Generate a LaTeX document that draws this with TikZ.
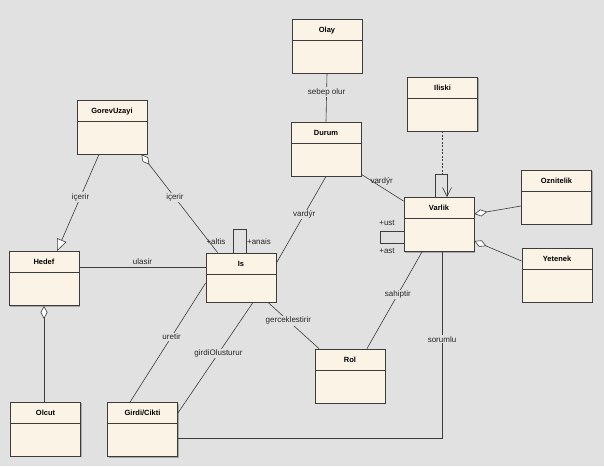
\documentclass[tikz,border=0pt]{standalone}
\usepackage{fontspec}
\setmainfont{Liberation Sans}
\usetikzlibrary{positioning,arrows.meta,shadows}

\definecolor{bgcol}{RGB}{225,225,225}
\definecolor{boxcol}{RGB}{251,243,230}
\definecolor{linecol}{RGB}{60,60,60}

\tikzset{
  umlclass/.style={draw=linecol, fill=boxcol, line width=0.8pt,
    minimum width=70pt, minimum height=54pt, inner sep=0pt,
    drop shadow={shadow xshift=1pt, shadow yshift=-1pt, fill=black, opacity=0.25},
    path picture={\draw[linecol, line width=0.8pt]
      ([yshift=-21pt]path picture bounding box.north west) --
      ([yshift=-21pt]path picture bounding box.north east);},
    label={[classname]north:#1}},
  classname/.style={anchor=base, yshift=-13.5pt, inner sep=0pt,
    font=\bfseries\fontsize{7.5}{9}\selectfont},
  assoc/.style={draw=linecol, line width=0.6pt},
  lbl/.style={fill=bgcol, inner sep=1pt, text=black!85, font=\fontsize{8}{9}\selectfont},
  role/.style={inner sep=0pt, text=black!85, font=\fontsize{8}{9}\selectfont},
  aggr/.style={{Diamond[length=13pt,width=7pt,fill=white]}-},
  gen/.style={-{Triangle[length=12pt,width=10pt,fill=white]}},
  nav/.style={-{Straight Barb[length=9pt,width=9pt]}},
}

\begin{document}
\begin{tikzpicture}[x=1pt, y=-1pt]
\fill[bgcol] (0,0) rectangle (604,466);
\useasboundingbox (0,0) rectangle (604,466);

% siniflar
\node[umlclass=GorevUzayi] (gorev) at (112,127) {};
\node[umlclass=Hedef] (hedef) at (44,278.5) {};
\node[umlclass=Is, minimum height=49pt] (is) at (241,277.5) {};
\node[umlclass=Olay] (olay) at (327,46) {};
\node[umlclass=Durum] (durum) at (326,149) {};
\node[umlclass=Iliski] (iliski) at (442.5,104) {};
\node[umlclass=Varlik] (varlik) at (439,224.5) {};
\node[umlclass=Oznitelik] (oznitelik) at (556.5,197) {};
\node[umlclass=Yetenek] (yetenek) at (557,275) {};
\node[umlclass=Olcut] (olcut) at (45.5,429) {};
\node[umlclass=Girdi/Cikti] (girdi) at (142.5,429.5) {};
\node[umlclass=Rol] (rol) at (350,376) {};

% iliskiler
\draw[assoc, gen] ([xshift=-13pt]gorev.south) -- node[lbl, pos=0.44] {içerir} ([xshift=13pt]hedef.north);
\draw[assoc, aggr] ([xshift=-6pt]gorev.south east) -- node[lbl, pos=0.44] {içerir} ([xshift=12pt]is.north west);
\draw[assoc] (hedef.east |- 0,267) -- node[role, above=2pt] {ulasir} (is.west |- 0,267);
\draw[assoc] (is.north west -| 233,0) -- (233,229) -- (246,229) -- (is.north west -| 246,0);
\node[role] (altis) at (216,242) {+altis};
\node[role] (anais) at (259,242) {+anais};
\draw[assoc] ([yshift=14.5pt]is.east) -- node[lbl, pos=0.56] {vardýr} (durum.south);
\draw[assoc] (olay.south) -- node[lbl, pos=0.39] {sebep olur} (durum.north);
\draw[assoc] ([yshift=2pt]durum.south east) -- node[role, pos=0.48, yshift=6pt] {vardýr} ([yshift=-4pt]varlik.north west);

% Varlik
\draw[assoc, dash pattern=on 2pt off 1.5pt] (iliski.south) -- (iliski.south |- 0,174);
\draw[assoc, nav] (varlik.north -| 435,0) -- (435,174) -- (447,174) -- (varlik.north -| 447,0);
\draw[assoc] (varlik.west |- 0,231) -- (380,231) -- (380,243) -- (varlik.west |- 0,243);
\node[role] (ust) at (387,223) {+ust};
\node[role] (ast) at (387,251) {+ast};
\draw[assoc, aggr] (varlik.east |- 0,214) -- (oznitelik.west |- 0,206);
\draw[assoc, aggr] (varlik.east |- 0,241) -- (yetenek.west |- 0,261);
\draw[assoc] (varlik.south -| 422,0) -- node[lbl, pos=0.44] {sahiptir} (rol.north -| 367,0);
\draw[assoc] (varlik.south -| 442,0) -- node[lbl, pos=0.47] {sorumlu} (442,438) -- (girdi.east |- 0,438);

% alt
\draw[assoc, aggr] (hedef.south) -- (hedef.south |- olcut.north);
\draw[assoc] (is.west |- 0,283) -- node[lbl, pos=0.45] {uretir} (girdi.north -| 130,0);
\draw[assoc] (is.south -| 253,0) -- node[lbl, pos=0.46] {girdiOlusturur} (girdi.east |- 0,413);
\draw[assoc] (is.south -| 268,0) -- node[lbl, pos=0.4] {gerceklestirir} (rol.north -| 319,0);
\end{tikzpicture}
\end{document}
